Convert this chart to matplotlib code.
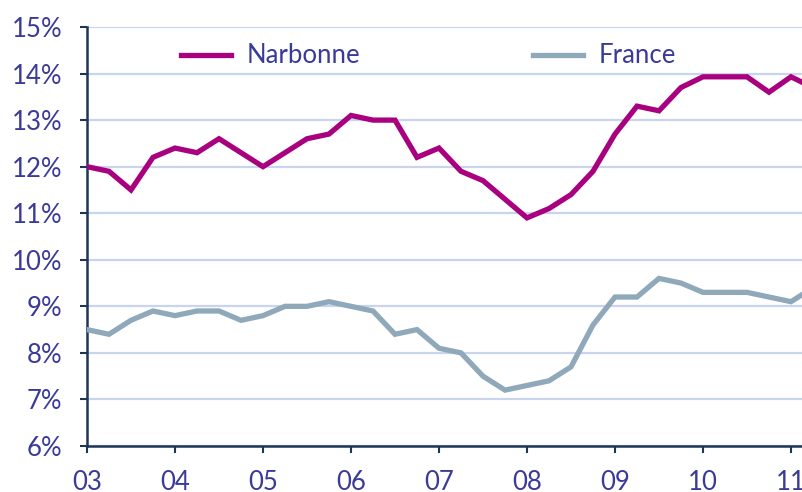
import numpy as np
import matplotlib.pyplot as plt

# quarterly rates, Q1 2003 to Q2 2011 (%)
narbonne = [12.0, 11.9, 11.5, 12.2, 12.4, 12.3, 12.6, 12.3,
            12.0, 12.3, 12.6, 12.7, 13.1, 13.0, 13.0, 12.2,
            12.4, 11.9, 11.7, 11.3, 10.9, 11.1, 11.4, 11.9,
            12.7, 13.3, 13.2, 13.7, 13.93, 13.93, 13.93, 13.6,
            13.93, 13.7]
france = [8.5, 8.4, 8.7, 8.9, 8.8, 8.9, 8.9, 8.7,
          8.8, 9.0, 9.0, 9.1, 9.0, 8.9, 8.4, 8.5,
          8.1, 8.0, 7.5, 7.2, 7.3, 7.4, 7.7, 8.6,
          9.2, 9.2, 9.6, 9.5, 9.3, 9.3, 9.3, 9.2,
          9.1, 9.4]
year_ticks = [2003, 2004, 2005, 2006, 2007, 2008, 2009, 2010, 2011]
year_labels = ["03", "04", "05", "06", "07", "08", "09", "10", "11"]

quarters = 2003 + 0.25 * np.arange(len(narbonne))

text_col = "#3A3A98"
axis_col = "#1F3558"
plt.rcParams['font.family'] = ['Lato', 'DejaVu Sans']

fig = plt.figure(figsize=(8.03, 4.92), dpi=100)
ax = fig.add_axes([87 / 803, 46 / 492, 1 - 87 / 803, (446 - 27) / 492])

ax.plot(quarters, narbonne, color="#A8007F", lw=3.8, label="Narbonne",
        solid_joinstyle="miter", zorder=3)
ax.plot(quarters, france, color="#8FA8BA", lw=3.8, label="France",
        solid_joinstyle="miter", zorder=3)

ax.set_xlim(2003, 2003 + (803 - 87) / 88)
ax.set_ylim(6, 15)
ax.set_yticks(range(6, 16))
ax.set_yticklabels([f"{v}%" for v in range(6, 16)])
ax.set_xticks(year_ticks)
ax.set_xticklabels(year_labels)

ax.grid(axis="y", color="#C9D4EE", lw=1.6)
ax.set_axisbelow(True)
for s in ["top", "right"]:
    ax.spines[s].set_visible(False)
for s in ["left", "bottom"]:
    ax.spines[s].set_color(axis_col)
    ax.spines[s].set_linewidth(1.8)
ax.tick_params(axis="both", colors=axis_col, labelcolor=text_col,
               labelsize=18.5, length=5, width=1.5)
ax.tick_params(axis="y", pad=13)
ax.tick_params(axis="x", pad=12)

leg = ax.legend(ncol=2, loc="center left",
                bbox_to_anchor=((181 - 87) / 716, (446 - 56) / 419),
                frameon=False, fontsize=18.5, handlelength=1.95,
                handletextpad=0.62, columnspacing=6.7,
                borderpad=0, borderaxespad=0)
for t in leg.get_texts():
    t.set_color(text_col)

fig.savefig("out.png", dpi=100)
